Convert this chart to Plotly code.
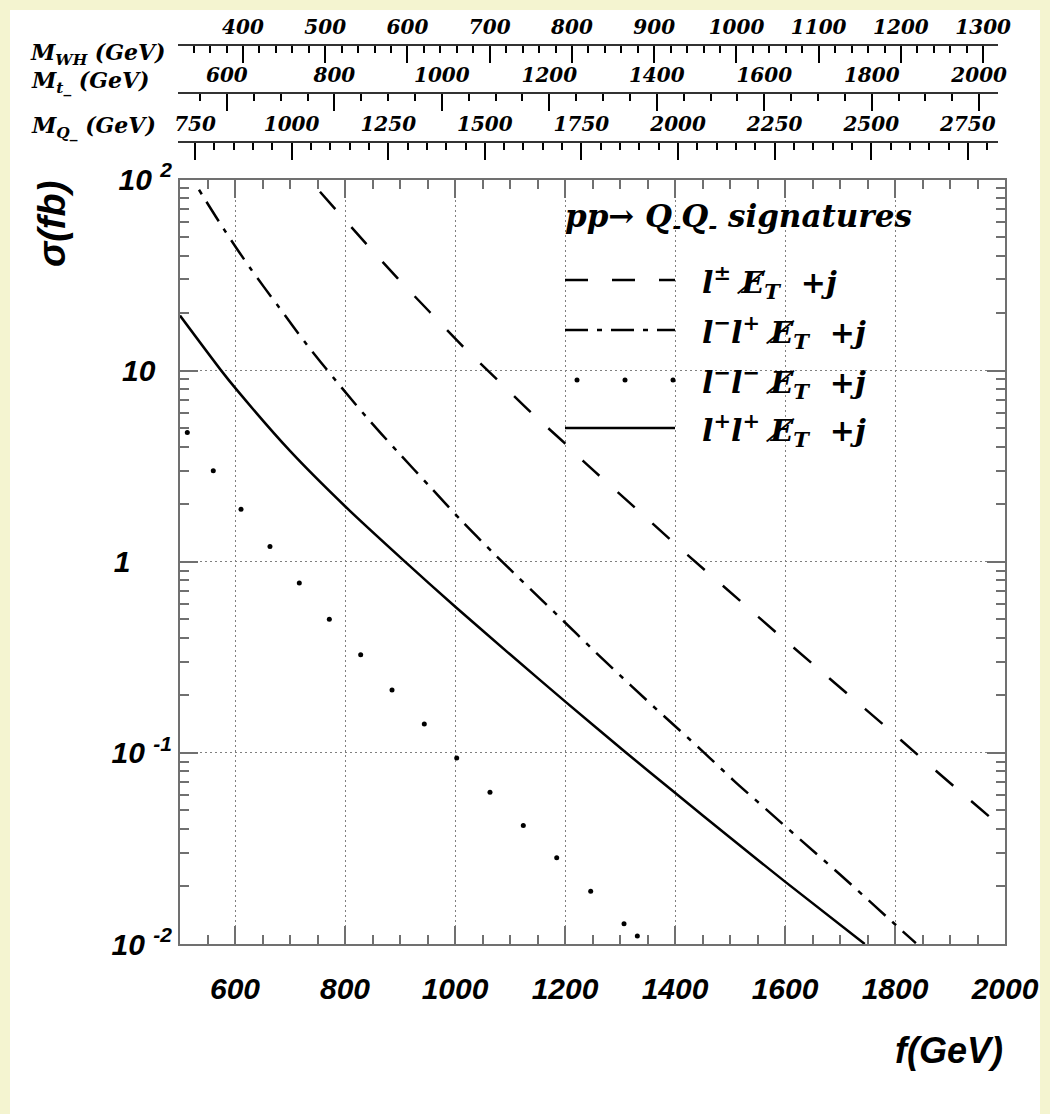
import plotly.graph_objects as go

# ---------------------------------------------------------------------------
# Cross sections sigma (fb) versus the scale f (GeV) for pp -> Q_ Q_ signatures
# ---------------------------------------------------------------------------
# l+- missing-ET + j  (dashed)
f_lpm = [754.5, 839.4, 895.8, 954.5, 1015.2, 1075.8, 1138.2, 1200.0, 1233.3,
         1327.3, 1390.9, 1454.5, 1519.4, 1584.8, 1648.5, 1713.3, 1778.8,
         1842.4, 1907.3, 1972.7]
sig_lpm = [86.3, 45.8, 30.4, 20.2, 13.3, 9.03, 6.04, 4.16, 3.36,
           1.92, 1.31, 0.903, 0.621, 0.424, 0.295, 0.204, 0.1406,
           0.097, 0.0668, 0.0461]

# l- l+ missing-ET + j  (dash-dot)
f_lmlp = [534.5, 580.0, 628.5, 678.7, 730.4, 783.6, 838.2, 895.8, 954.5,
          1012.2, 1072.7, 1195.8, 1256.4, 1319.5, 1381.8, 1445.5, 1507.8,
          1571.5, 1635.1, 1700.0, 1763.6, 1827.3, 1838.0]
sig_lmlp = [88.4, 54.8, 34.1, 21.7, 13.7, 8.85, 5.75, 3.76, 2.47,
            1.635, 1.09, 0.494, 0.3346, 0.2255, 0.154, 0.105, 0.0712,
            0.049, 0.0337, 0.0231, 0.01578, 0.01076, 0.0101]

# l- l- missing-ET + j  (dots)
f_lmlm = [513.3, 560.5, 610.9, 663.6, 716.9, 771.5, 828.5, 885.5, 944.2,
          1003.1, 1063.6, 1124.2, 1184.9, 1246.7, 1307.3, 1331.5]
sig_lmlm = [4.75, 2.99, 1.883, 1.201, 0.774, 0.500, 0.3266, 0.2132, 0.1415,
            0.0939, 0.0623, 0.0417, 0.02827, 0.0189, 0.01276, 0.0110]

# l+ l+ missing-ET + j  (solid)
f_lplp = [500, 575, 601, 700, 801, 906, 1001, 1100, 1200, 1309, 1400, 1500,
          1600, 1745]
sig_lplp = [19.4, 10.0, 8.07, 3.80, 1.94, 1.02, 0.58, 0.328, 0.186, 0.1014,
            0.0618, 0.0361, 0.0212, 0.0100]

# Axis ticks
f_ticks = [600, 800, 1000, 1200, 1400, 1600, 1800, 2000]
sig_ticks = [0.01, 0.1, 1, 10, 100]
NB = "\u00a0"
sig_ticktext = ["10 <sup>-2</sup>", "10 <sup>-1</sup>", "1" + NB * 5, "10" + NB * 2,
                "10 <sup>2</sup>"]

# Companion mass scales drawn above the frame
mwh_ticks = [400, 500, 600, 700, 800, 900, 1000, 1100, 1200, 1300]
mt_ticks = [600, 800, 1000, 1200, 1400, 1600, 1800, 2000]
mq_ticks = [750, 1000, 1250, 1500, 1750, 2000, 2250, 2500, 2750]
mwh_range = [321, 1318]
mt_range = [509, 2035]
mq_range = [706, 2828]

legend_labels = [
    "l<sup>\u00b1</sup> E\u0338<sub>T</sub>  +j",
    "l<sup>\u2212</sup>l<sup>+</sup> E\u0338<sub>T</sub>  +j",
    "l<sup>\u2212</sup>l<sup>\u2212</sup> E\u0338<sub>T</sub>  +j",
    "l<sup>+</sup>l<sup>+</sup> E\u0338<sub>T</sub>  +j",
]

# ---------------------------------------------------------------------------
W, H = 1050, 1114
L, R, T, B = 178, 45, 20, 170
IW, IH = W - L - R, H - T - B


def px_x(x):
    return (x - L) / IW


def px_y(y):
    return (H - B - y) / IH


SANS = dict(family="Liberation Sans", weight="bold", style="italic", color="black")
SERIF = dict(family="DejaVu Serif", weight="bold", style="italic", color="black")
LW = 2.5
DASHED = "23px,24px"
DASHDOT = "23px,9px,5px,9px"

fig = go.Figure()

fig.add_trace(go.Scatter(x=f_lpm, y=sig_lpm, mode="lines",
                         line=dict(color="black", width=LW, dash=DASHED,
                                   shape="spline", smoothing=0.8)))
fig.add_trace(go.Scatter(x=f_lmlp, y=sig_lmlp, mode="lines",
                         line=dict(color="black", width=LW, dash="5px,9px,23px,9px",
                                   shape="spline", smoothing=0.8)))
fig.add_trace(go.Scatter(x=f_lmlm, y=sig_lmlm, mode="markers",
                         marker=dict(color="black", size=5)))
fig.add_trace(go.Scatter(x=f_lplp, y=sig_lplp, mode="lines",
                         line=dict(color="black", width=LW,
                                   shape="spline", smoothing=0.8)))

# carrier traces for the three mass scales
for ax, rng in (("x2", mwh_range), ("x3", mt_range), ("x4", mq_range)):
    fig.add_trace(go.Scatter(x=rng, y=[0.5, 0.5], xaxis=ax, yaxis="y2",
                             mode="markers", marker=dict(opacity=0),
                             hoverinfo="skip"))

grid = dict(showgrid=True, gridcolor="#808080", gridwidth=1, griddash="2px,3px")
frame = dict(showline=True, linecolor="#707070", linewidth=2, mirror="ticks",
             ticks="inside", tickcolor="#707070", tickwidth=1.5, ticklen=18,
             zeroline=False, automargin=False)

fig.update_layout(
    width=W, height=H,
    margin=dict(l=L, r=R, t=T, b=B, autoexpand=False),
    paper_bgcolor="#f4f4d0",
    plot_bgcolor="rgba(0,0,0,0)",
    showlegend=False,
    xaxis=dict(domain=[px_x(180), 1.0], range=[500, 2000],
               tickmode="array", tickvals=f_ticks,
               tickfont=dict(size=30, **SANS), ticklabelstandoff=17,
               minor=dict(dtick=50, tick0=500, ticks="inside", ticklen=9,
                          tickcolor="#707070", tickwidth=1.5),
               **grid, **frame),
    yaxis=dict(domain=[0, px_y(179.5)], type="log", range=[-2, 2],
               tickmode="array", tickvals=sig_ticks, ticktext=sig_ticktext,
               tickfont=dict(size=30, **SANS), ticklabelstandoff=0,
               minor=dict(tickmode="array",
                          tickvals=[m * 10 ** e for e in (-2, -1, 0, 1) for m in range(2, 10)],
                          ticks="inside", ticklen=9, tickcolor="#707070", tickwidth=1.5),
               **grid, **frame),
    yaxis2=dict(domain=[0.86, 1.0], range=[0, 1], visible=False, automargin=False),
)

top_domain = [0, px_x(998)]
for name, rng, ticks, minor_step, ypix in (
        ("xaxis2", mwh_range, mwh_ticks, 20, 45),
        ("xaxis3", mt_range, mt_ticks, 50, 93),
        ("xaxis4", mq_range, mq_ticks, 50, 142)):
    minor_vals = [v for v in range(int(rng[0]) // minor_step * minor_step + minor_step,
                                   int(rng[1]) + 1, minor_step) if v not in ticks]
    fig.update_layout({name: dict(
        anchor="free", position=px_y(ypix), domain=top_domain, side="top",
        range=rng, tickmode="array", tickvals=ticks, automargin=False,
        showline=True, linecolor="#333333", linewidth=1.5,
        ticks="inside", ticklen=17, tickwidth=2, tickcolor="black",
        minor=dict(tickmode="array", tickvals=minor_vals, ticks="inside",
                   ticklen=7, tickwidth=2, tickcolor="black"),
        showgrid=False, zeroline=False,
        tickfont=dict(size=20, **SERIF), ticklabelstandoff=2,
    )})

shapes = [
    # white sheet inside the pale yellow border
    dict(type="rect", xref="paper", yref="paper", layer="below",
         x0=px_x(10), x1=px_x(1040), y0=px_y(1120), y1=px_y(10),
         fillcolor="white", line=dict(width=0)),
    # key samples
    dict(type="line", xref="paper", yref="paper", x0=px_x(565), x1=px_x(675),
         y0=px_y(280), y1=px_y(280), line=dict(color="black", width=LW, dash=DASHED)),
    dict(type="line", xref="paper", yref="paper", x0=px_x(565), x1=px_x(675),
         y0=px_y(330), y1=px_y(330), line=dict(color="black", width=LW, dash=DASHDOT)),
    dict(type="line", xref="paper", yref="paper", x0=px_x(565), x1=px_x(675),
         y0=px_y(428), y1=px_y(428), line=dict(color="black", width=LW)),
]
for cx in (577, 625, 673):
    shapes.append(dict(type="circle", xref="paper", yref="paper",
                       x0=px_x(cx - 2.5), x1=px_x(cx + 2.5),
                       y0=px_y(380 + 2.5), y1=px_y(380 - 2.5),
                       fillcolor="black", line=dict(width=0)))
fig.update_layout(shapes=shapes)

ann = []
for text, xr, yc in (("M<sub>WH</sub> (GeV)", 168, 54),
                     ("M<sub>t_</sub> (GeV)", 152, 82),
                     ("M<sub>Q_</sub> (GeV)", 158, 127)):
    ann.append(dict(text=text, x=px_x(xr), y=px_y(yc), xanchor="right",
                    yanchor="middle", font=dict(size=22, **SERIF)))
ann.append(dict(text="pp\u2192 Q<sub>-</sub>Q<sub>-</sub> signatures",
                x=px_x(563), y=px_y(218), xanchor="left", yanchor="middle",
                font=dict(size=31, **SERIF)))
for text, yc in zip(legend_labels, (282, 332, 382, 430)):
    ann.append(dict(text=text, x=px_x(700), y=px_y(yc), xanchor="left",
                    yanchor="middle", font=dict(size=30, **SERIF)))
ann.append(dict(text="\u03c3(fb)", x=px_x(52), y=px_y(224), textangle=-90,
                xanchor="center", yanchor="middle", font=dict(size=38, **SANS)))
ann.append(dict(text="f(GeV)", x=px_x(1005), y=px_y(1050), xanchor="right",
                yanchor="middle", font=dict(size=36, **SANS)))
for a in ann:
    a.update(xref="paper", yref="paper", showarrow=False)
fig.update_layout(annotations=ann)

fig.write_html("out.html")
